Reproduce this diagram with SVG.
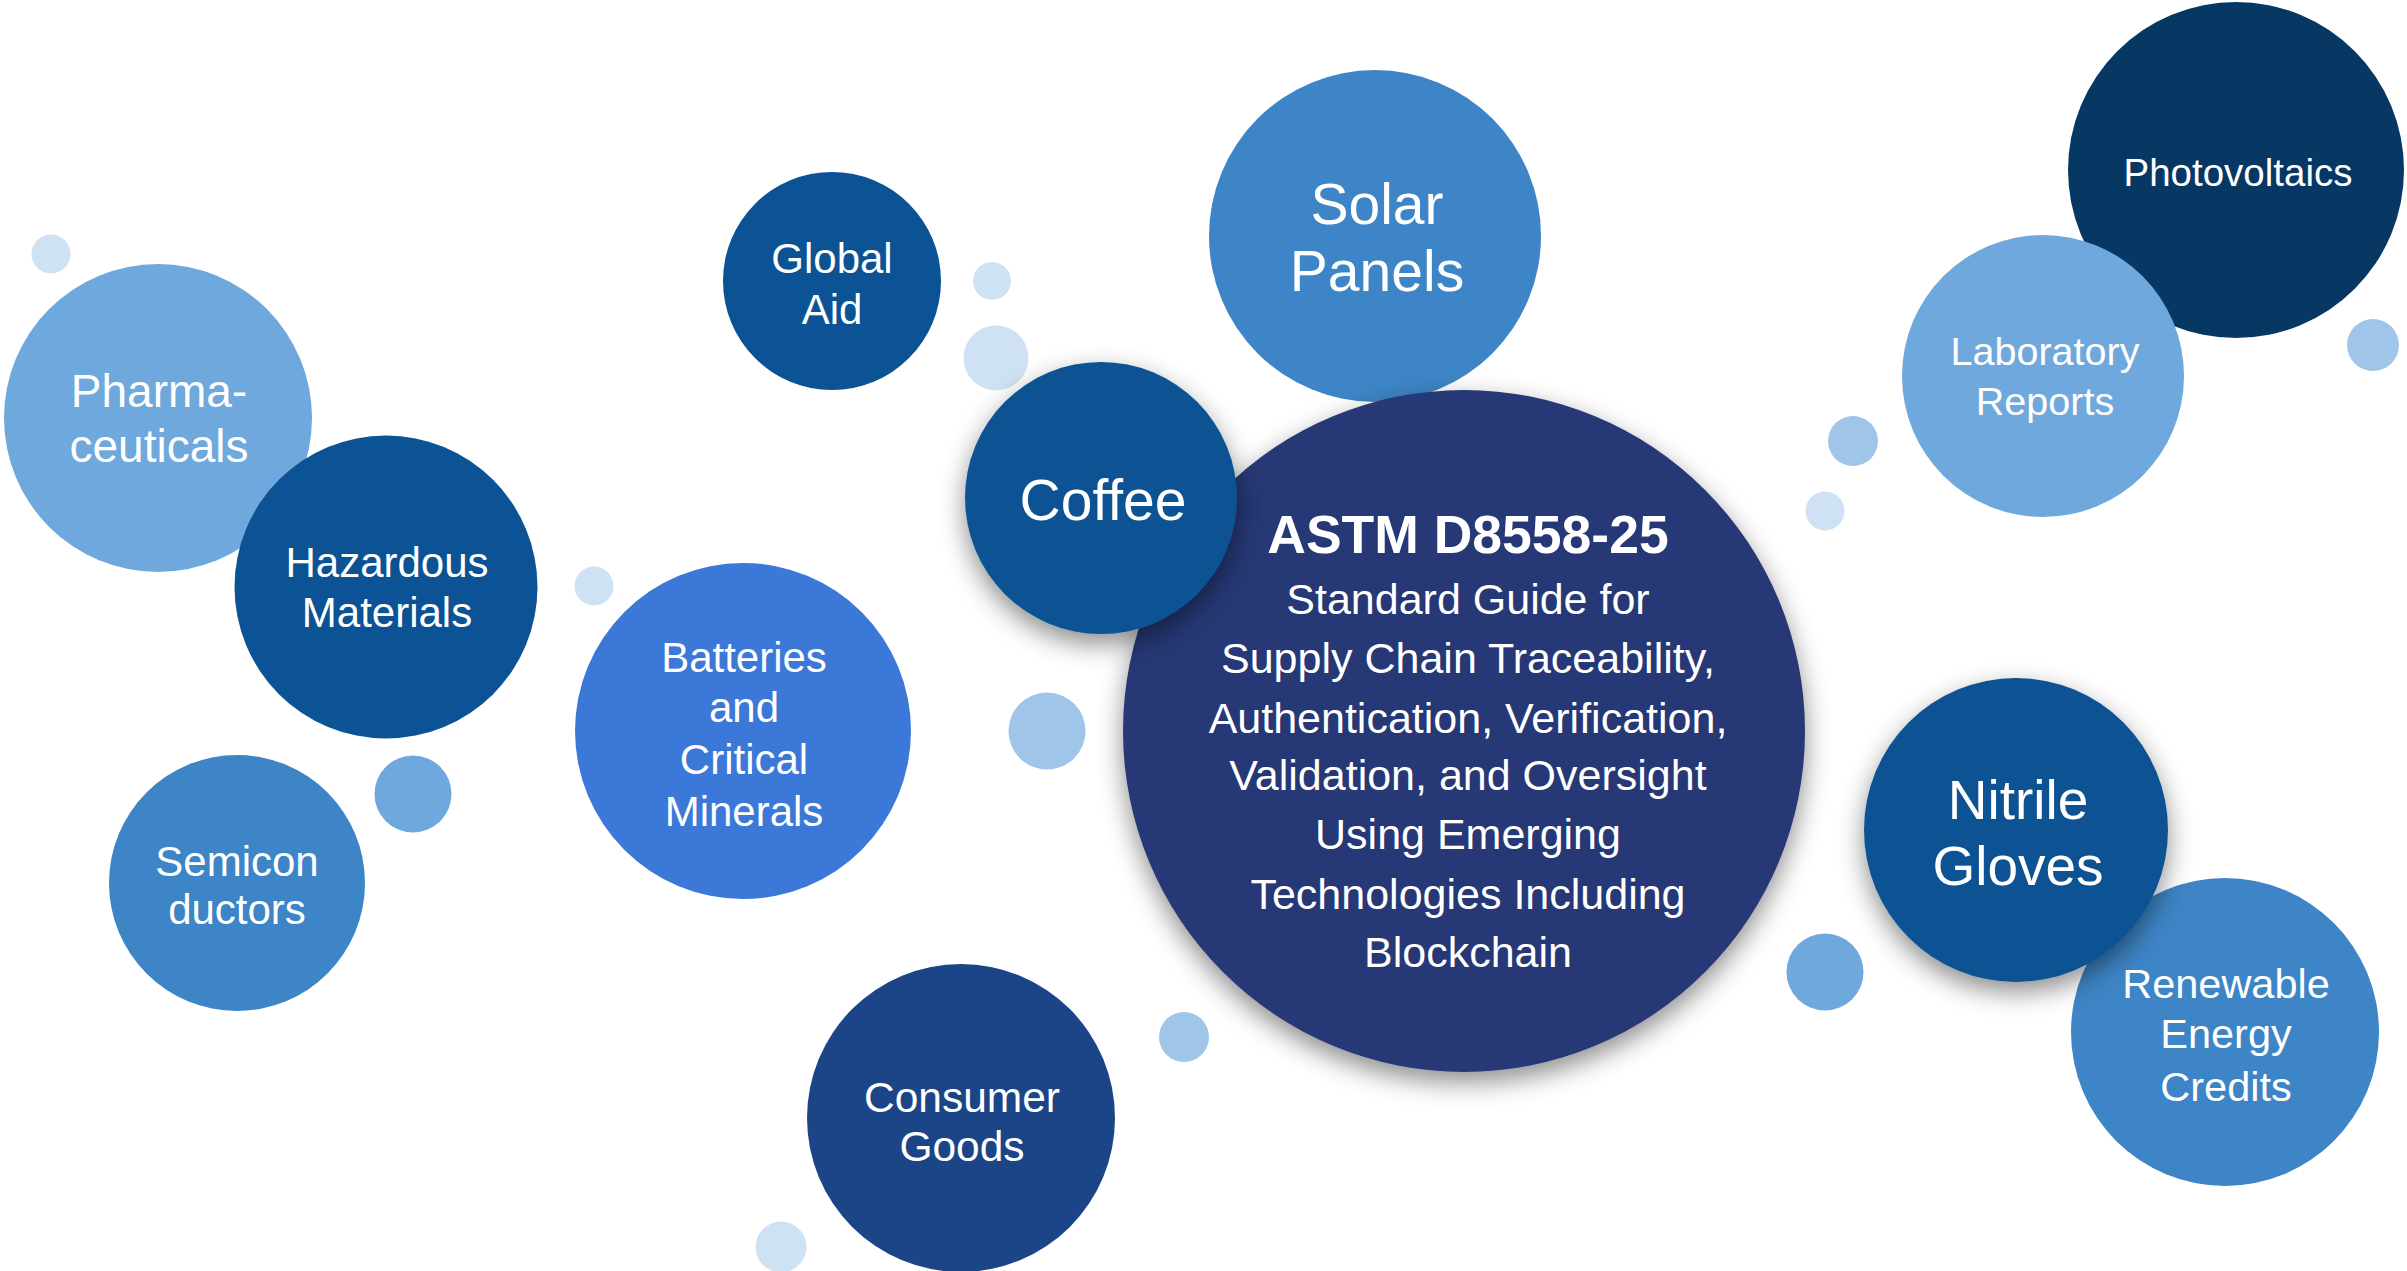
<svg xmlns="http://www.w3.org/2000/svg" width="2407" height="1271" viewBox="0 0 2407 1271">
  <style>
    .lbl { font-family: "Liberation Sans", Arial, sans-serif; fill: #ffffff; text-anchor: middle; }
    .c-pale { fill: #cfe2f3; }
    .c-soft { fill: #9fc5e8; }
    .c-light { fill: #6fa8dc; }
    .c-mid { fill: #3d85c6; }
    .c-corn { fill: #3c78d8; }
    .c-deep { fill: #0b5394; }
    .c-corn2 { fill: #1c4587; }
    .c-night { fill: #073763; }
    .c-core { fill: #283774; }
  </style>
  <defs>
    <filter id="lift" x="-20%" y="-20%" width="140%" height="150%">
      <feDropShadow dx="0" dy="10" stdDeviation="13" flood-color="#000000" flood-opacity="0.45"/>
    </filter>
  </defs>

  <rect width="2407" height="1271" fill="#ffffff"/>

  <!-- small decorative bubbles -->
  <g id="bubbles">
    <circle class="c-pale" cx="51" cy="254" r="19.5"/>
    <circle class="c-pale" cx="594" cy="586" r="19.5"/>
    <circle class="c-light" cx="413" cy="794" r="38.5"/>
    <circle class="c-pale" cx="992" cy="281" r="19"/>
    <circle class="c-pale" cx="996" cy="358" r="32.5"/>
    <circle class="c-soft" cx="1047" cy="731" r="38.5"/>
    <circle class="c-soft" cx="1184" cy="1037" r="25"/>
    <circle class="c-pale" cx="781" cy="1247" r="25.5"/>
    <circle class="c-light" cx="1825" cy="972" r="38.5"/>
    <circle class="c-soft" cx="1853" cy="441" r="25"/>
    <circle class="c-pale" cx="1825" cy="511" r="19.5"/>
    <circle class="c-soft" cx="2373" cy="345" r="26"/>
  </g>

  <g id="connectors"/>

  <g id="pharmaceuticals">
    <circle class="c-light" cx="158" cy="418" r="154"/>
    <text class="lbl" font-size="46" x="159" y="407">Pharma-</text>
    <text class="lbl" font-size="46" x="159" y="462">ceuticals</text>
  </g>

  <g id="hazardous-materials">
    <circle class="c-deep" cx="386" cy="587" r="151.5"/>
    <text class="lbl" font-size="42" x="387" y="577">Hazardous</text>
    <text class="lbl" font-size="42" x="387" y="627">Materials</text>
  </g>

  <g id="semiconductors">
    <circle class="c-mid" cx="237" cy="883" r="128"/>
    <text class="lbl" font-size="42" x="237" y="876">Semicon</text>
    <text class="lbl" font-size="42" x="237" y="924">ductors</text>
  </g>

  <g id="batteries">
    <circle class="c-corn" cx="743" cy="731" r="168"/>
    <text class="lbl" font-size="42" x="744" y="672">Batteries</text>
    <text class="lbl" font-size="42" x="744" y="722">and</text>
    <text class="lbl" font-size="42" x="744" y="774">Critical</text>
    <text class="lbl" font-size="42" x="744" y="826">Minerals</text>
  </g>

  <g id="global-aid">
    <circle class="c-deep" cx="832" cy="281" r="109"/>
    <text class="lbl" font-size="42" x="832" y="273">Global</text>
    <text class="lbl" font-size="42" x="832" y="324">Aid</text>
  </g>

  <g id="consumer-goods">
    <circle class="c-corn2" cx="961" cy="1118" r="154"/>
    <text class="lbl" font-size="42.5" x="962" y="1112">Consumer</text>
    <text class="lbl" font-size="42.5" x="962" y="1161">Goods</text>
  </g>

  <g id="solar-panels">
    <circle class="c-mid" cx="1375" cy="236" r="166"/>
    <text class="lbl" font-size="57" x="1377" y="224">Solar</text>
    <text class="lbl" font-size="57" x="1377" y="291">Panels</text>
  </g>

  <g id="astm-d8558">
    <circle class="c-core" cx="1464" cy="731" r="341" filter="url(#lift)"/>
    <text class="lbl" font-size="53.5" font-weight="bold" x="1468" y="553">ASTM D8558-25</text>
    <text class="lbl" font-size="43" x="1468" y="614">Standard Guide for</text>
    <text class="lbl" font-size="43" x="1468" y="673">Supply Chain Traceability,</text>
    <text class="lbl" font-size="43" x="1468" y="733">Authentication, Verification,</text>
    <text class="lbl" font-size="43" x="1468" y="790">Validation, and Oversight</text>
    <text class="lbl" font-size="43" x="1468" y="849">Using Emerging</text>
    <text class="lbl" font-size="43" x="1468" y="909">Technologies Including</text>
    <text class="lbl" font-size="43" x="1468" y="967">Blockchain</text>
  </g>

  <g id="coffee">
    <circle class="c-deep" cx="1101" cy="498" r="136" filter="url(#lift)"/>
    <text class="lbl" font-size="57" x="1103" y="520">Coffee</text>
  </g>

  <g id="photovoltaics">
    <circle class="c-night" cx="2236" cy="170" r="168"/>
    <text class="lbl" font-size="38.5" x="2238" y="186">Photovoltaics</text>
  </g>

  <g id="laboratory-reports">
    <circle class="c-light" cx="2043" cy="376" r="141"/>
    <text class="lbl" font-size="39.5" x="2045" y="365">Laboratory</text>
    <text class="lbl" font-size="39.5" x="2045" y="415">Reports</text>
  </g>

  <g id="renewable-energy-credits">
    <circle class="c-mid" cx="2225" cy="1032" r="154"/>
    <text class="lbl" font-size="41.5" x="2226" y="998">Renewable</text>
    <text class="lbl" font-size="41.5" x="2226" y="1048">Energy</text>
    <text class="lbl" font-size="41.5" x="2226" y="1101">Credits</text>
  </g>

  <g id="nitrile-gloves">
    <circle class="c-deep" cx="2016" cy="830" r="152" filter="url(#lift)"/>
    <text class="lbl" font-size="55" x="2018" y="819">Nitrile</text>
    <text class="lbl" font-size="55" x="2018" y="885">Gloves</text>
  </g>
</svg>
